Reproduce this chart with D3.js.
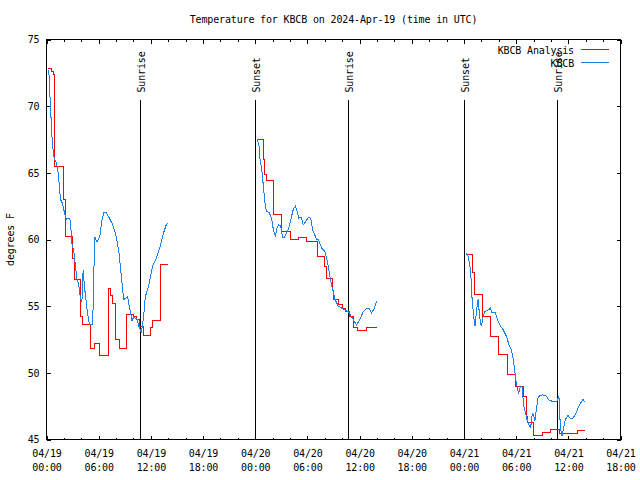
<!DOCTYPE html>
<html><head><meta charset="utf-8">
<script src="https://cdn.jsdelivr.net/npm/d3@7"></script>
<style>
body{margin:0;background:#fff}
svg{display:block}
text{font-family:"DejaVu Sans Mono",monospace;font-size:10px;fill:#000;letter-spacing:-0.15px}
</style></head><body>
<svg id="c" width="640" height="480"></svg>
<script>
const chartTitle = "Temperature for KBCB on 2024-Apr-19 (time in UTC)";
const yLabel = "degrees F";
const seriesNames = ["KBCB Analysis", "KBCB"];
const seriesColors = ["#ff0000", "#1a80f0"];
const startTime = "2024-04-19T00:00:00Z";
const endTime = "2024-04-21T18:00:00Z";
const yDomain = [45, 75];
const yTicks = [45, 50, 55, 60, 65, 70, 75];
const xMajorHours = [0, 6, 12, 18, 24, 30, 36, 42, 48, 54, 60, 66];
const xMinorHours = [2, 4, 8, 10, 14, 16, 20, 22, 26, 28, 32, 34, 38, 40, 44, 46, 50, 52, 56, 58, 62, 64];
const eventNames = ["Sunrise", "Sunset", "Sunrise", "Sunset", "Sunrise"];
const eventTimes = ["2024-04-19T10:46:00Z", "2024-04-19T23:59:00Z", "2024-04-20T10:41:00Z", "2024-04-21T00:01:00Z", "2024-04-21T10:42:00Z"];
const eventLineTop = 70.5;

// hours since 04/19 00:00 UTC, temperature (F); one array per day segment
const analysisDay1 = [[0.2,72.8],[0.6,72.6],[0.75,72.4],[0.95,65.5],[1.95,63.0],[2.2,60.2],[2.95,58.6],[3.25,57.0],[3.9,54.2],[4.15,53.6],[5.05,51.8],[5.5,52.2],[6.1,51.3],[7.1,56.3],[7.35,55.8],[7.6,55.2],[7.95,52.5],[8.4,51.8],[9.15,54.4],[10.0,54.2],[10.4,54.0],[10.65,53.5],[11.15,52.8],[11.95,53.4],[12.15,53.9],[13.1,58.15],[13.95,58.15]];
const analysisDay2 = [[24.26,67.5],[24.95,66.0],[25.1,64.9],[25.25,64.4],[26.05,61.9],[27.05,60.6],[28.0,60.0],[29.0,60.15],[29.95,59.85],[31.2,58.7],[32.0,58.0],[32.2,57.1],[32.9,56.2],[33.05,55.5],[33.6,55.1],[34.0,54.85],[34.4,54.6],[34.8,54.2],[35.25,53.4],[35.8,53.2],[36.8,53.4],[37.95,53.4]];
const analysisDay3 = [[48.29,58.85],[48.95,57.5],[49.2,55.9],[50.1,54.2],[51.04,52.7],[52.0,51.4],[53.0,49.9],[53.95,49.0],[54.85,48.25],[55.2,46.75],[55.35,46.3],[55.95,45.3],[57.0,45.5],[58.0,45.75],[59.0,45.45],[61.1,45.65],[61.95,45.65]];
const obsDay1 = [[0.26,72.75],[0.46,69.9],[0.65,67.45],[0.84,66.2],[1.15,65.7],[1.30,65.2],[1.41,64.5],[1.61,63.0],[1.84,62.7],[2.07,62.0],[2.30,61.5],[2.56,61.6],[2.75,61.4],[2.95,59.5],[3.13,59.2],[3.33,58.0],[3.52,57.0],[3.71,56.6],[3.90,55.6],[4.07,55.3],[4.21,57.7],[4.36,56.5],[4.67,54.7],[4.94,53.6],[5.31,53.6],[5.54,60.2],[5.82,59.8],[6.12,60.2],[6.39,61.5],[6.58,62.0],[6.85,62.05],[7.15,61.7],[7.54,61.2],[7.92,60.5],[8.30,59.2],[8.49,58.0],[8.69,56.7],[8.87,55.5],[9.15,55.6],[9.33,55.7],[9.45,55.2],[9.84,53.9],[10.02,54.2],[10.41,54.0],[10.62,53.5],[10.79,53.2],[10.90,53.0],[11.17,54.2],[11.36,55.7],[11.74,56.5],[12.20,58.0],[12.63,58.6],[13.09,59.5],[13.46,60.5],[13.77,61.1],[13.97,61.2]];
const obsDay2 = [[24.25,67.5],[24.45,66.95],[24.56,65.95],[24.76,65.2],[24.87,64.45],[25.02,63.45],[25.17,62.45],[25.33,62.1],[25.63,62.0],[25.91,61.5],[26.09,60.7],[26.32,60.3],[26.48,60.8],[26.66,61.1],[26.94,61.0],[27.12,60.2],[27.32,60.1],[27.63,60.5],[27.93,61.0],[28.20,61.8],[28.39,62.3],[28.62,62.5],[28.78,62.2],[29.01,61.6],[29.27,61.7],[29.53,61.1],[29.81,61.35],[30.11,61.65],[30.38,61.6],[30.61,60.7],[30.88,60.3],[31.07,60.0],[31.26,60.0],[31.65,59.35],[32.02,59.1],[32.29,58.35],[32.60,57.2],[32.91,56.2],[33.17,55.5],[33.55,55.0],[33.94,54.85],[34.32,54.7],[34.70,54.6],[35.09,54.2],[35.39,53.85],[35.66,53.6],[36.04,54.0],[36.42,54.6],[36.81,54.85],[37.11,54.8],[37.39,54.5],[37.65,54.8],[37.96,55.35]];
const obsDay3 = [[48.21,59.0],[48.47,58.75],[48.59,58.35],[48.75,57.7],[48.86,56.7],[48.93,55.6],[49.05,54.7],[49.16,54.0],[49.28,53.5],[49.44,54.6],[49.62,55.5],[49.74,54.7],[49.90,53.75],[50.01,53.5],[50.20,54.2],[50.39,54.6],[50.77,54.7],[51.04,54.85],[51.23,54.5],[51.62,54.5],[51.85,54.0],[52.11,53.6],[52.49,53.25],[52.88,52.75],[53.18,52.1],[53.46,51.75],[53.64,51.1],[53.83,50.25],[53.95,49.5],[54.10,49.0],[54.29,48.45],[54.49,49.0],[54.67,49.0],[54.87,47.5],[55.06,47.05],[55.25,46.5],[55.48,46.1],[55.67,45.9],[55.87,47.0],[56.02,46.75],[56.16,46.4],[56.32,47.25],[56.51,48.1],[56.70,48.3],[57.08,48.35],[57.47,48.25],[57.77,47.95],[58.23,47.85],[58.69,47.85],[58.92,48.25],[59.08,46.0],[59.26,45.25],[59.42,45.75],[59.65,46.5],[59.95,46.8],[60.23,46.6],[60.53,46.6],[60.92,47.0],[61.21,47.5],[61.49,47.8],[61.67,48.0],[61.95,47.8]];

const analysisSegments = [analysisDay1, analysisDay2, analysisDay3];
const obsSegments = [obsDay1, obsDay2, obsDay3];

const svg = d3.select("#c");
const t0 = new Date(startTime).getTime();
const hourToDate = h => new Date(t0 + h * 3600e3);

const x = d3.scaleUtc().domain([new Date(startTime), new Date(endTime)]).range([46.5, 620.5]);
const y = d3.scaleLinear().domain(yDomain).range([439.5, 39.5]);
const [L, R] = x.range();
const [B, T] = y.range();
const px = v => Math.floor(v) + 0.5;

// title and axis label
svg.append("text").attr("x", (L + R) / 2).attr("y", 23).attr("text-anchor", "middle").text(chartTitle);
svg.append("text").attr("transform", `translate(14,${(T + B) / 2}) rotate(-90)`).attr("text-anchor", "middle").text(yLabel);

// axes (ticks pointing inward)
const fmtD = d3.utcFormat("%m/%d"), fmtT = d3.utcFormat("%H:%M");
const gB = svg.append("g").attr("transform", `translate(0,${B})`)
  .call(d3.axisBottom(x).tickValues(xMajorHours.map(hourToDate)).tickSize(-4).tickPadding(0).tickFormat(""));
gB.selectAll(".tick").each(function(d) {
  const tx = d3.select(this).append("text").attr("text-anchor", "middle").attr("fill", "#000");
  tx.append("tspan").attr("x", 0).attr("y", 17.5).text(fmtD(d));
  tx.append("tspan").attr("x", 0).attr("y", 31.2).text(fmtT(d));
});
svg.append("g").attr("transform", `translate(0,${B})`)
  .call(d3.axisBottom(x).tickValues(xMinorHours.map(hourToDate)).tickSize(-2).tickFormat(""));
svg.append("g").attr("transform", `translate(0,${T})`)
  .call(d3.axisTop(x).tickValues(xMajorHours.map(hourToDate)).tickSize(-4).tickFormat(""));
svg.append("g").attr("transform", `translate(0,${T})`)
  .call(d3.axisTop(x).tickValues(xMinorHours.map(hourToDate)).tickSize(-2).tickFormat(""));
const gL = svg.append("g").attr("transform", `translate(${L},0)`)
  .call(d3.axisLeft(y).tickValues(yTicks).tickSize(-4).tickPadding(7).tickFormat(d3.format("d")));
svg.append("g").attr("transform", `translate(${R},0)`)
  .call(d3.axisRight(y).tickValues(yTicks).tickSize(-4).tickFormat(""));
svg.selectAll(".domain").remove();
svg.selectAll(".tick line").attr("stroke", "#000").attr("shape-rendering", "crispEdges");
svg.selectAll("g").attr("font-family", null).attr("font-size", null);
gL.selectAll("text").attr("fill", "#000");

// border
svg.append("rect").attr("x", L).attr("y", T).attr("width", R - L).attr("height", B - T)
  .attr("fill", "none").attr("stroke", "#000").attr("shape-rendering", "crispEdges");

// sunrise / sunset markers
eventTimes.forEach((s, i) => {
  const ex = px(x(new Date(s)));
  svg.append("line").attr("x1", ex).attr("x2", ex).attr("y1", y(eventLineTop)).attr("y2", B)
    .attr("stroke", "#000").attr("shape-rendering", "crispEdges");
  svg.append("text").attr("transform", `translate(${ex + 4.5},${y(eventLineTop) - 7}) rotate(-90)`)
    .text(eventNames[i]);
});

// series
const stepLine = d3.line().x(d => x(hourToDate(d[0]))).y(d => y(d[1])).curve(d3.curveStepAfter);
const plainLine = d3.line().x(d => x(hourToDate(d[0]))).y(d => y(d[1]));
svg.append("g").selectAll("path").data(analysisSegments).join("path")
  .attr("d", stepLine).attr("fill", "none").attr("stroke", seriesColors[0]).attr("stroke-width", 1)
  .attr("shape-rendering", "crispEdges");
svg.append("g").selectAll("path").data(obsSegments).join("path")
  .attr("d", plainLine).attr("fill", "none").attr("stroke", seriesColors[1]).attr("stroke-width", 1)
  .attr("shape-rendering", "crispEdges");

// legend
seriesNames.forEach((n, i) => {
  const ly = 49.5 + i * 13;
  svg.append("text").attr("x", 574).attr("y", ly + 4).attr("text-anchor", "end").text(n);
  svg.append("line").attr("x1", 581).attr("x2", 609).attr("y1", ly).attr("y2", ly)
    .attr("stroke", seriesColors[i]).attr("shape-rendering", "crispEdges");
});
</script>
</body></html>
